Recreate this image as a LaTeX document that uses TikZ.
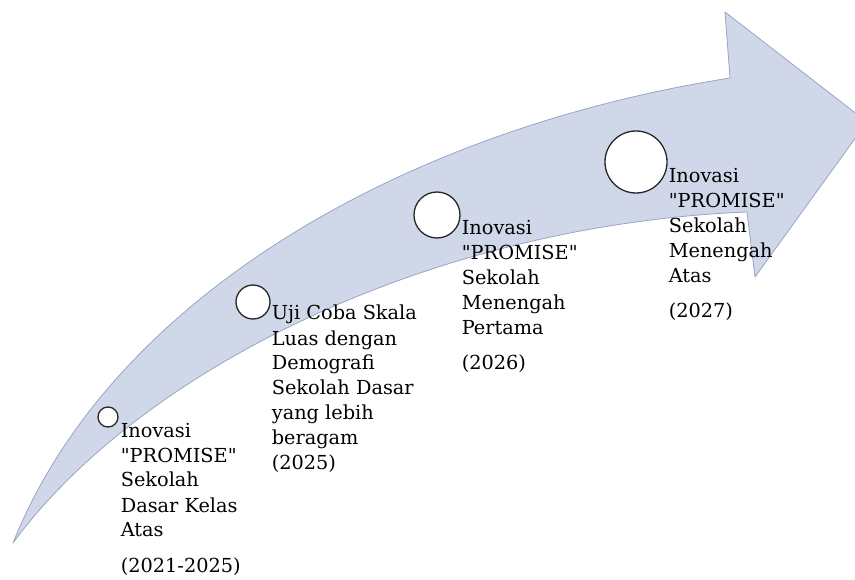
\documentclass[tikz,border=0pt]{standalone}
\usepackage{fontspec}
\setmainfont{DejaVu Serif}[Ligatures=TeXOff]
\usetikzlibrary{calc}
\definecolor{arrowFill}{HTML}{CFD7E9}
\definecolor{arrowLine}{HTML}{97A6C4}
\newcommand{\stagetext}[1]{\begin{tabular}[t]{@{}l@{}}#1\end{tabular}}

\begin{document}
\begin{tikzpicture}[x=1pt,y=-1pt,
  every node/.style={font=\fontsize{19.3}{25}\selectfont},
  milestone/.style={circle,draw=black!85,line width=1.3pt,fill=white,inner sep=0pt},
  stage/.style={anchor=base west,inner sep=0pt}]
  \useasboundingbox (0,0) rectangle (855,580);
  % curved arrow
  \begin{scope}
    \clip (0,0) rectangle (855,580);
    \filldraw[fill=arrowFill,draw=arrowLine,line width=0.8pt,line join=round]
      (13,543) .. controls (110,300) and (400,130) .. (730,78)
      -- (725,12) -- (867,122) -- (755,277) -- (747,212)
      .. controls (430,225) and (140,370) .. (13,543) -- cycle;
  \end{scope}
  % milestones
  \node[milestone,minimum size=20pt] (m1) at (108,417) {};
  \node[milestone,minimum size=34pt] (m2) at (253,302) {};
  \node[milestone,minimum size=46pt] (m3) at (437,215) {};
  \node[milestone,minimum size=62pt] (m4) at (636,162) {};
  \node[stage] (t1) at ($(m1.east)+(2,20)$) {\stagetext{Inovasi\\"PROMISE"\\Sekolah\\Dasar Kelas\\Atas\\[10pt](2021-2025)}};
  \node[stage] (t2) at ($(m2.east)+(1,18)$) {\stagetext{Uji Coba Skala\\Luas dengan\\Demografi\\Sekolah Dasar\\yang lebih\\beragam\\(2025)}};
  \node[stage] (t3) at ($(m3.east)+(1,20)$) {\stagetext{Inovasi\\"PROMISE"\\Sekolah\\Menengah\\Pertama\\[10pt](2026)}};
  \node[stage] (t4) at ($(m4.east)+(1,21)$) {\stagetext{Inovasi\\"PROMISE"\\Sekolah\\Menengah\\Atas\\[10pt](2027)}};
\end{tikzpicture}
\end{document}
